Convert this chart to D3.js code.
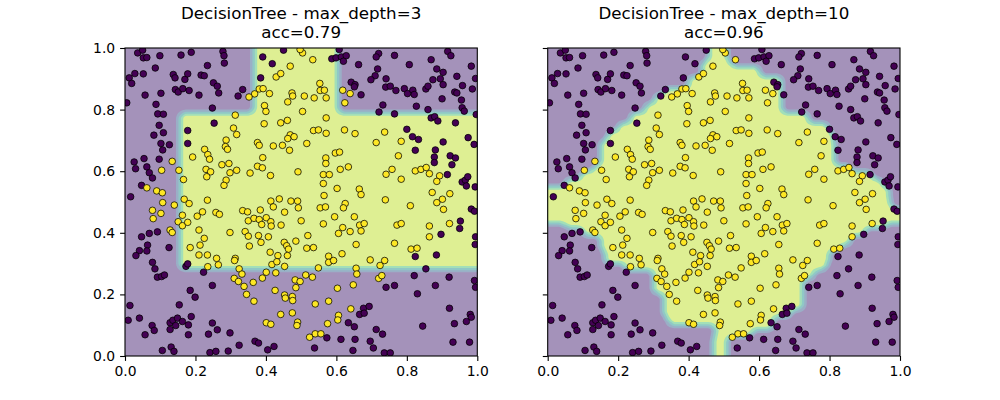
<!DOCTYPE html>
<html lang="en">
<head>
<meta charset="UTF-8">
<title>DecisionTree max_depth comparison</title>
<style>
  body { margin: 0; background: #fff; }
  svg { display: block; font-family: "DejaVu Sans", sans-serif; }
  .tick text { font-size: 13.9px; fill: #000; }
  .title { font-size: 16.7px; fill: #000; }
</style>
</head>
<body>
<div id="chart"></div>
<script src="https://d3js.org/d3.v7.min.js"></script>
<script>
// points, [x, y]
const class0Points = [
  [0.036,0.984],[0.050,0.993],[0.052,0.968],[0.062,0.969],[0.099,0.975],[0.159,0.977],[0.188,0.986],[0.278,0.989],[0.281,0.975],[0.282,0.951],
  [0.234,0.943],[0.086,0.935],[0.012,0.903],[0.028,0.917],[0.019,0.885],[0.052,0.916],[0.137,0.914],[0.142,0.903],[0.170,0.898],[0.178,0.916],
  [0.216,0.912],[0.225,0.910],[0.251,0.887],[0.262,0.876],[0.143,0.865],[0.151,0.857],[0.164,0.868],[0.182,0.862],[0.057,0.847],[0.102,0.853],
  [0.210,0.847],[0.266,0.854],[0.321,0.844],[0.005,0.822],[0.088,0.817],[0.248,0.805],[0.093,0.786],[0.109,0.785],[0.097,0.749],[0.082,0.717],
  [0.109,0.725],[0.102,0.690],[0.126,0.686],[0.107,0.669],[0.178,0.732],[0.178,0.690],[0.253,0.756],
  [0.391,0.971],[0.418,0.949],[0.385,0.903],[0.334,0.865],[0.450,0.993],[0.608,0.995],[0.587,0.965],[0.599,0.968],[0.614,0.971],[0.628,0.975],
  [0.620,0.957],[0.663,0.946],[0.642,0.889],[0.653,0.881],[0.651,0.874],[0.670,0.848],
  [0.720,0.982],[0.713,0.971],[0.765,0.976],[0.916,0.989],[0.925,0.975],[0.869,0.962],[0.807,0.946],[0.983,0.941],[0.717,0.932],[0.710,0.910],
  [0.698,0.897],[0.741,0.900],[0.885,0.932],[0.903,0.921],[0.895,0.900],[0.874,0.897],[0.942,0.908],[0.995,0.901],[0.903,0.881],[0.958,0.878],
  [0.986,0.867],[0.740,0.873],[0.753,0.876],[0.769,0.862],[0.793,0.868],[0.802,0.852],[0.817,0.863],[0.821,0.849],[0.854,0.867],[0.860,0.876],
  [0.936,0.857],[0.942,0.854],[0.900,0.835],[0.955,0.831],[0.732,0.815],[0.827,0.811],[0.860,0.800],[0.957,0.806],[0.963,0.795],[0.721,0.792],
  [0.765,0.786],[0.997,0.784],[0.869,0.773],[0.879,0.777],[0.888,0.763],[0.938,0.757],[0.800,0.736],[0.816,0.712],[0.833,0.703],[0.903,0.695],
  [0.974,0.709],[0.991,0.687],[0.824,0.668],[0.881,0.669],
  [0.026,0.630],[0.030,0.608],[0.054,0.641],[0.062,0.614],[0.069,0.595],[0.078,0.578],[0.097,0.639],[0.047,0.554],[0.016,0.517],[0.092,0.403],
  [0.069,0.398],[0.047,0.387],[0.125,0.352],[0.064,0.360],[0.062,0.341],[0.041,0.342],
  [0.878,0.646],[0.878,0.628],[0.923,0.650],[0.938,0.643],[0.928,0.621],[0.915,0.589],[0.957,0.565],[0.966,0.571],[0.973,0.582],[0.969,0.552],
  [0.994,0.549],[0.983,0.477],[0.992,0.470],[0.952,0.438],[0.950,0.414],[0.897,0.395],[0.995,0.387],[0.994,0.362],
  [0.031,0.326],[0.078,0.304],[0.085,0.283],[0.092,0.256],[0.104,0.258],[0.112,0.263],[0.173,0.291],[0.178,0.299],[0.223,0.272],[0.248,0.229],
  [0.185,0.213],[0.199,0.191],[0.014,0.164],[0.154,0.166],[0.009,0.116],[0.041,0.123],[0.077,0.099],[0.083,0.083],[0.057,0.069],[0.128,0.108],
  [0.136,0.116],[0.144,0.099],[0.128,0.086],[0.149,0.123],[0.163,0.112],[0.180,0.101],[0.180,0.069],[0.188,0.128],[0.248,0.107],[0.262,0.085],
  [0.237,0.071],[0.298,0.075],[0.106,0.018],[0.131,0.029],[0.139,0.015],[0.241,0.011],[0.258,0.015],[0.293,0.016],[0.324,0.035],
  [0.666,0.135],[0.634,0.108],[0.651,0.095],[0.573,0.059],[0.613,0.054],[0.653,0.054],[0.538,0.026],[0.647,0.018],[0.369,0.048],[0.379,0.042],
  [0.405,0.020],[0.423,0.031],
  [0.824,0.323],[0.884,0.328],[0.854,0.283],[0.821,0.261],[0.741,0.223],[0.765,0.229],[0.830,0.202],[0.881,0.229],[0.920,0.256],[0.992,0.245],
  [0.995,0.223],[0.677,0.155],[0.693,0.161],[0.679,0.139],[0.921,0.155],[0.980,0.135],[0.983,0.126],[0.969,0.112],[0.935,0.105],[0.845,0.097],
  [0.713,0.086],[0.731,0.071],[0.696,0.048],[0.705,0.026],[0.736,0.010],[0.753,0.010],[0.931,0.045],[0.978,0.045]
];

const class1Points = [
  [0.313,0.782],[0.308,0.740],[0.317,0.719],[0.287,0.701],[0.285,0.680],[0.291,0.671],[0.226,0.671],
  [0.504,0.984],[0.497,0.995],[0.533,0.962],[0.469,0.941],[0.429,0.906],[0.442,0.917],[0.381,0.867],[0.392,0.868],[0.368,0.851],
  [0.352,0.841],[0.410,0.852],[0.474,0.854],[0.476,0.844],[0.462,0.825],[0.509,0.844],[0.537,0.838],[0.553,0.885],[0.554,0.862],[0.566,0.863],
  [0.571,0.838],[0.618,0.863],[0.639,0.852],[0.624,0.822],[0.396,0.813],[0.400,0.794],[0.504,0.794],[0.571,0.773],[0.395,0.754],[0.442,0.757],
  [0.461,0.765],[0.535,0.732],[0.549,0.734],[0.571,0.723],[0.623,0.734],[0.653,0.722],[0.469,0.718],[0.462,0.706],[0.480,0.712],[0.376,0.693],
  [0.381,0.684],[0.421,0.682],[0.447,0.684],[0.516,0.690],[0.467,0.668],
  [0.737,0.727],[0.713,0.693],[0.784,0.697],
  [0.134,0.632],[0.104,0.603],[0.153,0.603],[0.166,0.573],[0.062,0.546],[0.090,0.536],[0.106,0.530],[0.107,0.498],[0.140,0.490],[0.078,0.473],
  [0.102,0.463],[0.080,0.446],[0.168,0.509],[0.182,0.495],[0.163,0.457],[0.151,0.436],[0.163,0.423],[0.178,0.434],[0.128,0.409],[0.134,0.401],
  [0.210,0.409],[0.225,0.382],[0.185,0.352],[0.213,0.360],[0.234,0.506],[0.205,0.454],[0.220,0.468],[0.258,0.466],[0.268,0.460],[0.298,0.401],
  [0.192,0.646],[0.235,0.654],[0.240,0.639],[0.275,0.621],[0.295,0.625],[0.230,0.606],[0.243,0.598],[0.232,0.582],[0.298,0.595],[0.317,0.603],
  [0.287,0.571],[0.281,0.554],
  [0.391,0.644],[0.376,0.616],[0.390,0.611],[0.355,0.594],[0.413,0.586],[0.491,0.598],[0.570,0.643],[0.570,0.625],[0.597,0.659],[0.609,0.662],
  [0.611,0.606],[0.634,0.614],[0.563,0.589],[0.580,0.589],[0.563,0.560],[0.602,0.544],[0.565,0.521],[0.665,0.542],[0.670,0.524],[0.625,0.495],
  [0.620,0.481],[0.554,0.481],[0.569,0.484],[0.438,0.510],[0.414,0.503],[0.421,0.484],[0.471,0.503],[0.490,0.503],[0.492,0.481],[0.453,0.467],
  [0.334,0.472],[0.348,0.468],[0.384,0.474],[0.595,0.452],[0.651,0.452],[0.500,0.439],[0.350,0.439],[0.366,0.447],[0.381,0.443],[0.401,0.449],
  [0.414,0.436],[0.388,0.427],[0.415,0.422],[0.443,0.425],[0.563,0.429],[0.618,0.417],[0.606,0.398],[0.666,0.425],[0.670,0.406],[0.639,0.404],
  [0.341,0.404],[0.350,0.389],[0.379,0.391],[0.407,0.387],[0.353,0.357],[0.386,0.369],[0.452,0.369],[0.459,0.358],[0.464,0.347],[0.485,0.373],
  [0.519,0.391],[0.516,0.350],[0.535,0.352],[0.656,0.362],[0.412,0.337],[0.616,0.332],
  [0.776,0.650],[0.741,0.590],[0.758,0.606],[0.784,0.574],[0.824,0.601],[0.840,0.606],[0.855,0.612],[0.864,0.592],[0.893,0.585],[0.885,0.567],
  [0.872,0.531],[0.922,0.527],[0.901,0.509],[0.885,0.498],[0.904,0.476],[0.739,0.507],[0.810,0.488],[0.679,0.430],[0.772,0.425],[0.784,0.430],
  [0.864,0.422],[0.864,0.387],[0.921,0.430],[0.765,0.366],[0.812,0.347],[0.829,0.350],
  [0.210,0.328],[0.234,0.328],[0.260,0.317],[0.265,0.296],[0.313,0.317],[0.311,0.310],[0.235,0.290],[0.324,0.283],[0.332,0.266],[0.310,0.252],
  [0.322,0.242],
  [0.434,0.326],[0.461,0.326],[0.417,0.297],[0.431,0.306],[0.453,0.291],[0.578,0.324],[0.578,0.304],[0.592,0.310],[0.549,0.286],[0.656,0.285],
  [0.658,0.266],[0.401,0.272],[0.428,0.270],[0.390,0.253],[0.338,0.226],[0.364,0.239],[0.345,0.200],[0.366,0.178],[0.483,0.247],[0.497,0.242],
  [0.513,0.263],[0.532,0.256],[0.485,0.222],[0.426,0.213],[0.453,0.198],[0.455,0.188],[0.475,0.193],[0.476,0.180],[0.540,0.169],[0.578,0.178],
  [0.603,0.220],[0.648,0.231],[0.442,0.135],[0.475,0.140],[0.641,0.153],[0.606,0.132],[0.604,0.117],[0.401,0.108],[0.414,0.103],[0.490,0.110],
  [0.488,0.099],[0.575,0.105],[0.540,0.072],[0.556,0.072],[0.524,0.061],
  [0.696,0.312],[0.724,0.294],[0.737,0.310],[0.720,0.252],[0.729,0.261]
];

// class-1 leaf regions of each tree: [yLow, yHigh, xLeft, xRight]; 0 / 1 mean open to the border
const depth3Regions = [
  [0.282, 0.790, 0.155, 1.0],
  [0.790, 1.0, 0.365, 0.605]
];

const depth10Regions = [
  [0.958, 1.0, 0.457, 0.510],
  [0.940, 0.958, 0.437, 0.522],
  [0.908, 0.940, 0.437, 0.602],
  [0.870, 0.908, 0.400, 0.665],
  [0.850, 0.870, 0.332, 0.665],
  [0.820, 0.850, 0.304, 0.665],
  [0.790, 0.820, 0.276, 0.665],
  [0.757, 0.790, 0.235, 0.740],
  [0.730, 0.757, 0.200, 0.796],
  [0.700, 0.730, 0.170, 0.811],
  [0.620, 0.700, 0.150, 0.815],
  [0.600, 0.620, 0.130, 0.860],
  [0.575, 0.600, 0.095, 0.920],
  [0.550, 0.575, 0.050, 0.950],
  [0.505, 0.550, 0.0, 0.970],
  [0.480, 0.505, 0.0, 0.975],
  [0.430, 0.480, 0.0, 1.0],
  [0.415, 0.430, 0.050, 0.960],
  [0.390, 0.415, 0.100, 0.900],
  [0.360, 0.390, 0.150, 0.860],
  [0.343, 0.360, 0.150, 0.830],
  [0.300, 0.343, 0.162, 0.800],
  [0.278, 0.300, 0.219, 0.790],
  [0.250, 0.278, 0.299, 0.755],
  [0.203, 0.250, 0.299, 0.725],
  [0.150, 0.203, 0.328, 0.725],
  [0.127, 0.150, 0.328, 0.690],
  [0.100, 0.127, 0.342, 0.640],
  [0.085, 0.100, 0.475, 0.640],
  [0.063, 0.085, 0.475, 0.580],
  [0.0, 0.063, 0.469, 0.510]
];

const titles = ["DecisionTree - max_depth=3", "DecisionTree - max_depth=10"];
const accuracies = ["acc=0.79", "acc=0.96"];
const tickValues = [0.0, 0.2, 0.4, 0.6, 0.8, 1.0];
const contourLevels = [0.0, 0.2, 0.4, 0.6, 0.8, 1.0];

const width = 1000, height = 400;
const axTop = 48, axBottom = 356;
const panelW = 352.3, gap = 70.4;
const panelLefts = [125, 125 + panelW + gap];

const svg = d3.select("#chart").append("svg")
  .attr("width", width)
  .attr("height", height);

// grid used for the filled contours
const g0 = -0.05, step = 0.005, n = 221;
const cell = 0.034;   // smoothing width of the decision boundary

function overlap(a0, a1, b0, b1) {
  return Math.max(0, Math.min(a1, b1) - Math.max(a0, b0));
}
function openEnd(v, lo) {
  if (lo && v <= 0) return -1;
  if (!lo && v >= 1) return 2;
  return v;
}

function buildField(regions) {
  const rects = regions.map(r => [openEnd(r[0], true), openEnd(r[1], false), openEnd(r[2], true), openEnd(r[3], false)]);
  const values = new Float64Array(n * n);
  for (let j = 0; j < n; j++) {
    const gy = g0 + j * step;
    for (let i = 0; i < n; i++) {
      const gx = g0 + i * step;
      let v = 0;
      for (const r of rects) {
        const oy = overlap(gy - cell / 2, gy + cell / 2, r[0], r[1]);
        if (oy === 0) continue;
        v += oy * overlap(gx - cell / 2, gx + cell / 2, r[2], r[3]);
      }
      values[j * n + i] = v / (cell * cell);
    }
  }
  return values;
}

const layers = d3.range(contourLevels.length - 1).map(k => (contourLevels[k] + contourLevels[k + 1]) / 2);
const bandColors = layers.map(t => d3.interpolateRgb(d3.interpolateViridis(t), "#fff")(0.5));
const color0 = d3.interpolateViridis(0), color1 = d3.interpolateViridis(1);

[depth3Regions, depth10Regions].forEach((regions, p) => {
  const left = panelLefts[p];
  const x = d3.scaleLinear().domain([0, 1]).range([left, left + panelW]);
  const y = d3.scaleLinear().domain([0, 1]).range([axBottom, axTop]);

  const clipId = "clip" + p;
  svg.append("clipPath").attr("id", clipId)
    .append("rect")
    .attr("x", x(0)).attr("y", y(1))
    .attr("width", x(1) - x(0)).attr("height", y(0) - y(1));

  const plot = svg.append("g").attr("clip-path", `url(#${clipId})`);

  // lowest band as background
  plot.append("rect")
    .attr("x", x(0)).attr("y", y(1))
    .attr("width", x(1) - x(0)).attr("height", y(0) - y(1))
    .attr("fill", bandColors[0]);

  const values = buildField(regions);
  const contours = d3.contours().size([n, n])
    .thresholds(contourLevels.slice(1, -1))(values);

  const proj = d3.geoTransform({
    point: function(gx, gy) {
      this.stream.point(x(g0 + (gx - 0.5) * step), y(g0 + (gy - 0.5) * step));
    }
  });
  const path = d3.geoPath(proj);

  plot.selectAll("path.band")
    .data(contours)
    .join("path")
    .attr("class", "band")
    .attr("d", path)
    .attr("fill", (d, k) => bandColors[k + 1]);

  const pts = class0Points.map(d => ({x: d[0], y: d[1], c: 0}))
    .concat(class1Points.map(d => ({x: d[0], y: d[1], c: 1})));

  plot.selectAll("circle")
    .data(pts)
    .join("circle")
    .attr("cx", d => x(d.x))
    .attr("cy", d => y(d.y))
    .attr("r", 3.3)
    .attr("fill", d => d.c ? color1 : color0)
    .attr("stroke", "#000")
    .attr("stroke-width", 0.75);

  // axes
  const xAxis = d3.axisBottom(x).tickValues(tickValues)
    .tickFormat(d3.format(".1f")).tickSize(4.9).tickPadding(4.9);
  const yAxis = d3.axisLeft(y).tickValues(tickValues)
    .tickFormat(p === 0 ? d3.format(".1f") : () => "").tickSize(4.9).tickPadding(4.9);

  const gx = svg.append("g").attr("transform", `translate(0,${axBottom})`).call(xAxis);
  const gy = svg.append("g").attr("transform", `translate(${left},0)`).call(yAxis);
  [gx, gy].forEach(g => {
    g.select(".domain").remove();
    g.selectAll(".tick line").attr("stroke", "#000").attr("stroke-width", 1.1);
    g.selectAll(".tick text").attr("font-family", "DejaVu Sans").style("font-size", "13.9px");
  });

  svg.append("rect")
    .attr("x", x(0)).attr("y", y(1))
    .attr("width", x(1) - x(0)).attr("height", y(0) - y(1))
    .attr("fill", "none")
    .attr("stroke", "#000")
    .attr("stroke-width", 1.1);

  const cx = (x(0) + x(1)) / 2;
  const t = svg.append("text").attr("class", "title")
    .attr("text-anchor", "middle");
  t.append("tspan").attr("x", cx).attr("y", 19).text(titles[p]);
  t.append("tspan").attr("x", cx).attr("y", 38).text(accuracies[p]);
});
</script>
</body>
</html>
